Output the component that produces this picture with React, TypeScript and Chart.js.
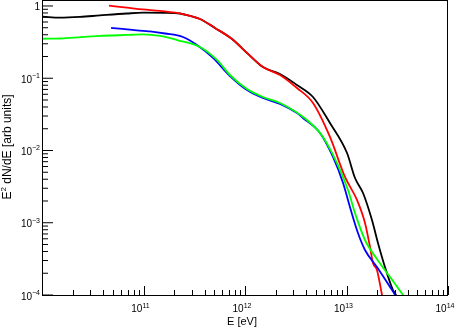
import React, { useEffect, useRef } from "react";
import { Chart, registerables } from "chart.js";

Chart.register(...registerables);

// ---- axis ranges ----
const X_MIN = 1e10;
const X_MAX = 1e14;
const Y_MIN = 1e-4;
const Y_MAX = 1.21;

// ---- series (E in eV, E^2 dN/dE in arbitrary units) ----
const blackE = [1.02e10, 1.5e10, 2.37e10, 3.72e10, 6.87e10, 9.89e10, 1.629e11, 2.291e11, 2.871e11, 3.606e11, 5.058e11, 7.447e11, 1.072e12, 1.503e12, 2.213e12, 3.251e12, 4.677e12, 6.871e12, 1.012e13, 1.213e13, 1.455e13, 1.782e13, 2.042e13, 2.393e13, 2.871e13, 3.076e13, 3.2e13];
const blackF = [0.711, 0.689, 0.705, 0.74, 0.787, 0.807, 0.805, 0.787, 0.728, 0.661, 0.497, 0.349, 0.217, 0.143, 0.1146, 0.0807, 0.055, 0.024, 0.00923, 0.00416, 0.00258, 0.00109, 0.000525, 0.000244, 0.000117, 0.0001, 0.000085];

const redE = [4.57e10, 6.87e10, 9.89e10, 1.455e11, 2.449e11, 3.606e11, 5.058e11, 7.447e11, 1.072e12, 1.503e12, 2.213e12, 3.251e12, 4.677e12, 6.871e12, 9.66e12, 1.268e13, 1.521e13, 1.706e13, 1.824e13, 1.995e13, 2.239e13, 2.291e13];
const redF = [1.01, 0.948, 0.895, 0.853, 0.774, 0.661, 0.497, 0.349, 0.217, 0.143, 0.1109, 0.0733, 0.0454, 0.0154, 0.0043, 0.00207, 0.000993, 0.000461, 0.000277, 0.000222, 0.0001, 0.000085];

const blueE = [4.79e10, 6.87e10, 9.89e10, 1.159e11, 1.629e11, 2.449e11, 3.365e11, 4.842e11, 7.112e11, 1.047e12, 1.503e12, 2.213e12, 3.251e12, 3.724e12, 5.483e12, 7.362e12, 9.247e12, 1.081e13, 1.297e13, 1.521e13, 1.995e13, 2.685e13, 3.006e13, 3.148e13];
const blueF = [0.497, 0.476, 0.451, 0.444, 0.416, 0.372, 0.288, 0.191, 0.1074, 0.0687, 0.0533, 0.0441, 0.033, 0.0282, 0.0175, 0.00813, 0.00355, 0.00165, 0.000721, 0.00042, 0.000244, 0.000129, 0.0001, 0.000085];

const greenE = [1.02e10, 1.5e10, 3.72e10, 6.87e10, 9.89e10, 1.455e11, 2.138e11, 3.606e11, 5.297e11, 7.112e11, 1.047e12, 1.503e12, 2.213e12, 4.083e12, 5.861e12, 8.054e12, 1.035e13, 1.213e13, 1.521e13, 1.995e13, 2.685e13, 3.606e13, 3.945e13];
const greenF = [0.352, 0.355, 0.385, 0.397, 0.404, 0.385, 0.338, 0.271, 0.179, 0.1109, 0.071, 0.055, 0.0454, 0.0264, 0.0154, 0.00671, 0.00284, 0.00136, 0.000577, 0.000315, 0.000177, 0.0001, 0.0000837];

// ---- tick labels / titles ----
const xTickValues = [1e11, 1e12, 1e13, 1e14];
const xTickLabels = ["10^11", "10^12", "10^13", "10^14"];
const yTickValues = [1, 1e-1, 1e-2, 1e-3, 1e-4];
const yTickLabels = ["1", "10^\u22121", "10^\u22122", "10^\u22123", "10^\u22124"];
const xTitle = "E [eV]";
const yTitle = "E^2 dN/dE [arb units]";

const FONT = '"Liberation Sans", Arial, Helvetica, sans-serif';

type Seg = { t: string; sup: boolean };
function parseSup(s: string): Seg[] {
  const out: Seg[] = [];
  const re = /\^(\S+)/g;
  let last = 0;
  let m: RegExpExecArray | null;
  while ((m = re.exec(s))) {
    if (m.index > last) out.push({ t: s.slice(last, m.index), sup: false });
    out.push({ t: m[1], sup: true });
    last = m.index + m[0].length;
  }
  if (last < s.length) out.push({ t: s.slice(last), sup: false });
  return out;
}

function drawRich(ctx: CanvasRenderingContext2D, s: string, x: number, y: number, align: "left" | "right" | "center", size: number, supSize: number, raise: number) {
  const segs = parseSup(s);
  const widths = segs.map((g) => {
    ctx.font = `${g.sup ? supSize : size}px ${FONT}`;
    return ctx.measureText(g.t).width;
  });
  const total = widths.reduce((a, b) => a + b, 0);
  let cx = align === "left" ? x : align === "right" ? x - total : x - total / 2;
  ctx.textAlign = "left";
  ctx.textBaseline = "alphabetic";
  segs.forEach((g, i) => {
    ctx.font = `${g.sup ? supSize : size}px ${FONT}`;
    ctx.fillText(g.t, cx, g.sup ? y - raise : y);
    cx += widths[i];
  });
  return total;
}

const rootAxes = {
  id: "rootAxes",
  afterDatasetsDraw(chart: any) {
    const { ctx, chartArea: a, scales } = chart;
    const xs = scales.x;
    const ys = scales.y;
    ctx.save();
    ctx.strokeStyle = "#000";
    ctx.fillStyle = "#000";
    ctx.lineWidth = 1;
    // frame
    ctx.strokeRect(a.left + 0.5, a.top + 0.5, a.right - a.left - 1, a.bottom - a.top);

    // y ticks (inside)
    for (let k = -4; k <= 0; k++) {
      for (let m = 1; m <= 9; m++) {
        const v = m * Math.pow(10, k);
        if (v > Y_MAX * 1.0001) continue;
        const py = ys.getPixelForValue(v);
        const len = m === 1 ? 11 : 6;
        ctx.beginPath();
        ctx.moveTo(a.left, py);
        ctx.lineTo(a.left + len, py);
        ctx.stroke();
      }
    }
    // x ticks (inside)
    for (let k = 10; k <= 14; k++) {
      for (let m = 1; m <= 9; m++) {
        const v = m * Math.pow(10, k);
        if (v > X_MAX * 1.0001) continue;
        const px = Math.round(xs.getPixelForValue(v)) + 0.5;
        const len = m === 1 ? 9 : 5;
        ctx.beginPath();
        ctx.moveTo(px, a.bottom);
        ctx.lineTo(px, a.bottom - len);
        ctx.stroke();
      }
    }

    // y tick labels
    yTickValues.forEach((v, i) => {
      const py = ys.getPixelForValue(v);
      drawRich(ctx, yTickLabels[i], 40, py + 4.5, "right", 10, 7, 4.5);
    });
    // x tick labels
    xTickValues.forEach((v, i) => {
      const px = xs.getPixelForValue(v);
      drawRich(ctx, xTickLabels[i], px - 3, a.bottom + 17, "center", 10, 7, 4.5);
    });

    // x title
    drawRich(ctx, xTitle, 242, 325, "center", 11, 8, 5);

    // y title (rotated)
    ctx.save();
    ctx.translate(10.5, 147);
    ctx.rotate(-Math.PI / 2);
    drawRich(ctx, yTitle, 0, 0, "center", 12, 8, 5);
    ctx.restore();

    ctx.restore();
  },
};

function makeSeries(xsArr: number[], ysArr: number[]) {
  return xsArr.map((x, i) => ({ x, y: ysArr[i] }));
}

export default function App() {
  const ref = useRef<HTMLCanvasElement | null>(null);
  useEffect(() => {
    if (!ref.current) return;
    const common = {
      showLine: true,
      pointRadius: 0,
      borderWidth: 1.8,
      cubicInterpolationMode: "monotone",
      clip: 0,
      fill: false,
    };
    const chart = new Chart(ref.current, {
      type: "scatter",
      data: {
        datasets: [
          { ...common, label: "black", data: makeSeries(blackE, blackF), borderColor: "#000000", order: 4 },
          { ...common, label: "red", data: makeSeries(redE, redF), borderColor: "#ff0000", order: 3 },
          { ...common, label: "blue", data: makeSeries(blueE, blueF), borderColor: "#0000ff", order: 2 },
          { ...common, label: "green", data: makeSeries(greenE, greenF), borderColor: "#00ff00", order: 1 },
        ] as any,
      },
      options: {
        responsive: false,
        animation: false,
        layout: { padding: { top: 0, right: 10, bottom: 0, left: 0 } },
        plugins: { legend: { display: false }, tooltip: { enabled: false } },
        scales: {
          x: {
            type: "logarithmic",
            min: X_MIN,
            max: X_MAX,
            ticks: { display: false },
            grid: { display: false },
            border: { display: false },
            afterFit: (s: any) => {
              s.height = 36;
            },
          },
          y: {
            type: "logarithmic",
            min: Y_MIN,
            max: Y_MAX,
            ticks: { display: false },
            grid: { display: false },
            border: { display: false },
            afterFit: (s: any) => {
              s.width = 42;
            },
          },
        },
      } as any,
      plugins: [rootAxes],
    });
    return () => chart.destroy();
  }, []);

  return (
    <div style={{ position: "fixed", left: 0, top: 0, width: 458, height: 331, background: "#fff" }}>
      <canvas ref={ref} width={458} height={331} style={{ width: 458, height: 331, display: "block" }} />
    </div>
  );
}
